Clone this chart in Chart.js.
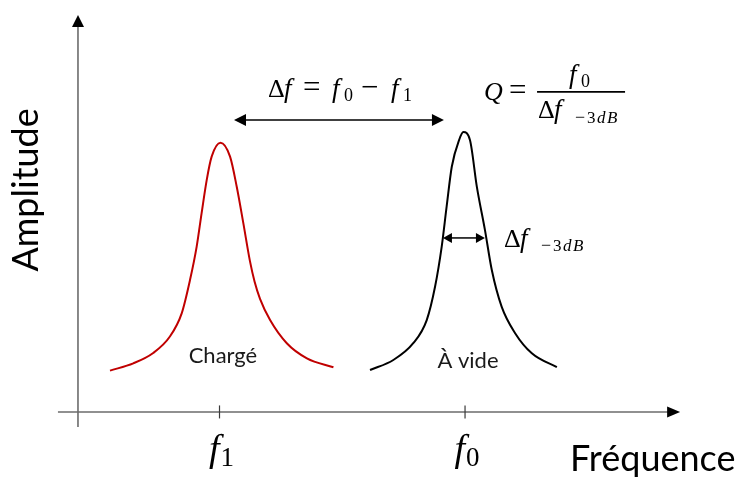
<!DOCTYPE html>
<html>
<head>
<meta charset="utf-8">
<script src="https://cdn.jsdelivr.net/npm/chart.js@4.4.0/dist/chart.umd.min.js"></script>
<style>
  html, body { margin: 0; padding: 0; background: #ffffff; }
  #wrap { width: 742px; height: 477px; position: relative; }
</style>
</head>
<body>
<div id="wrap"><canvas id="c" width="742" height="477"></canvas></div>
<script>
// ---- Data (frequency in units where f1 = 1, f0 = 2; amplitude normalised to the unloaded peak) ----
const redFreq   = [0.554, 0.649, 0.730, 0.798, 0.846, 0.880, 0.907, 0.927, 0.948, 0.968, 1.004, 1.043, 1.070, 1.097, 1.124, 1.143, 1.165, 1.206, 1.274, 1.356, 1.464];
const redAmp    = [0.148, 0.174, 0.211, 0.270, 0.353, 0.473, 0.592, 0.711, 0.831, 0.914, 0.964, 0.914, 0.807, 0.676, 0.540, 0.466, 0.405, 0.329, 0.246, 0.192, 0.160];
const blackFreq = [1.613, 1.708, 1.789, 1.844, 1.878, 1.905, 1.925, 1.946, 1.976, 1.993, 2.020, 2.048, 2.081, 2.109, 2.149, 2.204, 2.272, 2.374];
const blackAmp  = [0.150, 0.186, 0.246, 0.329, 0.449, 0.592, 0.735, 0.878, 0.974, 1.002, 0.974, 0.807, 0.652, 0.508, 0.377, 0.282, 0.210, 0.160];
const tickValues = [1, 2];
const tickLabels = [['f', '1'], ['f', '0']];
const seriesLabels = ['Chargé', 'À vide'];
const axisTitles = ['Fréquence', 'Amplitude'];

const toPts = (xs, ys) => xs.map((x, i) => ({ x: x, y: ys[i] }));

const MATH = '"Liberation Serif", "DejaVu Serif", serif';
const SANS = 'Lato, "Open Sans", sans-serif';

function drawPlaced(ctx, x, y, segs) {
  ctx.textAlign = 'left';
  ctx.textBaseline = 'alphabetic';
  segs.forEach(s => {
    ctx.font = (s.italic ? 'italic ' : '') + s.size + 'px ' + MATH;
    ctx.fillText(s.t, x + s.dx, y + (s.dy || 0));
  });
}

function drawRich(ctx, x, y, segs, align) {
  let total = 0;
  const ws = segs.map(s => {
    ctx.font = (s.italic ? 'italic ' : '') + s.size + 'px ' + MATH;
    const w = ctx.measureText(s.t).width + (s.gap || 0);
    total += w;
    return w;
  });
  let cx = align === 'center' ? x - total / 2 : x;
  ctx.textAlign = 'left';
  ctx.textBaseline = 'alphabetic';
  segs.forEach((s, i) => {
    ctx.font = (s.italic ? 'italic ' : '') + s.size + 'px ' + MATH;
    ctx.fillText(s.t, cx, y + (s.dy || 0));
    cx += ws[i];
  });
  return total;
}

function arrowHead(ctx, tx, ty, dir, len, half) {
  ctx.beginPath();
  if (dir === 'up') { ctx.moveTo(tx, ty); ctx.lineTo(tx - half, ty + len); ctx.lineTo(tx + half, ty + len); }
  if (dir === 'right') { ctx.moveTo(tx, ty); ctx.lineTo(tx - len, ty - half); ctx.lineTo(tx - len, ty + half); }
  if (dir === 'left') { ctx.moveTo(tx, ty); ctx.lineTo(tx + len, ty - half); ctx.lineTo(tx + len, ty + half); }
  ctx.closePath();
  ctx.fill();
}

const diagram = {
  id: 'diagram',
  beforeDatasetsDraw(chart) {
    const { ctx, scales: { x, y } } = chart;
    const px = v => x.getPixelForValue(v);
    const py = v => y.getPixelForValue(v);
    ctx.save();
    ctx.strokeStyle = '#6b6b6b';
    ctx.fillStyle = '#000000';
    ctx.lineWidth = 1.6;
    const yAxX = px(0.4236);
    ctx.beginPath();
    ctx.moveTo(yAxX, py(-0.054));
    ctx.lineTo(yAxX, py(1.421) + 10);
    ctx.stroke();
    arrowHead(ctx, yAxX, py(1.421), 'up', 12, 6);
    const xAxY = py(0);
    ctx.beginPath();
    ctx.moveTo(px(0.342), xAxY);
    ctx.lineTo(px(2.876) - 10, xAxY);
    ctx.stroke();
    arrowHead(ctx, px(2.876), xAxY, 'right', 13, 5.5);
    ctx.lineWidth = 1.2;
    ctx.strokeStyle = '#3a3a3a';
    tickValues.forEach(v => {
      ctx.beginPath();
      ctx.moveTo(px(v), xAxY - 6.5);
      ctx.lineTo(px(v), xAxY + 6.5);
      ctx.stroke();
    });
    ctx.restore();
  },
  afterDatasetsDraw(chart) {
    const { ctx, scales: { x, y } } = chart;
    const px = v => x.getPixelForValue(v);
    const py = v => y.getPixelForValue(v);
    ctx.save();
    ctx.fillStyle = '#000000';
    ctx.strokeStyle = '#000000';

    // tick labels
    tickValues.forEach((v, i) => {
      drawRich(ctx, px(v) + 2, py(-0.175), [
        { t: tickLabels[i][0], size: 38, italic: true, gap: 1 },
        { t: tickLabels[i][1], size: 27, dy: 5 }
      ], 'center');
    });

    // delta f arrow
    ctx.lineWidth = 1.5;
    const ay = py(1.045);
    const a1 = px(1.059), a2 = px(1.914);
    ctx.beginPath(); ctx.moveTo(a1 + 8, ay); ctx.lineTo(a2 - 8, ay); ctx.stroke();
    arrowHead(ctx, a1, ay, 'left', 12, 6);
    arrowHead(ctx, a2, ay, 'right', 12, 6);

    // -3dB width arrow
    const by = py(0.623);
    const b1 = px(1.910), b2 = px(2.081);
    ctx.beginPath(); ctx.moveTo(b1 + 6, by); ctx.lineTo(b2 - 6, by); ctx.stroke();
    arrowHead(ctx, b1, by, 'left', 9, 5);
    arrowHead(ctx, b2, by, 'right', 9, 5);

    // formula  Δf = f0 − f1
    drawPlaced(ctx, px(1.1976), py(1.128), [
      { t: 'Δ', size: 26, dx: 0 },
      { t: 'f', size: 27, italic: true, dx: 16 },
      { t: '=', size: 31, dx: 35 },
      { t: 'f', size: 27, italic: true, dx: 64 },
      { t: '0', size: 18, dx: 76, dy: 4 },
      { t: '−', size: 31, dx: 93 },
      { t: 'f', size: 27, italic: true, dx: 123 },
      { t: '1', size: 18, dx: 135, dy: 4 }
    ]);

    // Q = f0 / Δf-3dB
    const qx = px(2.0774), qy = py(1.117);
    drawPlaced(ctx, qx, qy, [
      { t: 'Q', size: 26, italic: true, dx: 0 },
      { t: '=', size: 31, dx: 25 }
    ]);
    const barY = py(1.146);
    const barL = px(2.2933), barR = px(2.6517);
    ctx.lineWidth = 1.6;
    ctx.beginPath(); ctx.moveTo(barL, barY); ctx.lineTo(barR, barY); ctx.stroke();
    drawPlaced(ctx, barL, barY - 9, [
      { t: 'f', size: 27, italic: true, dx: 32 },
      { t: '0', size: 18, dx: 44, dy: 4 }
    ]);
    drawPlaced(ctx, barL, barY + 26, [
      { t: 'Δ', size: 26, dx: 1 },
      { t: 'f', size: 27, italic: true, dx: 17 },
      { t: '−', size: 18, dx: 38, dy: 5 },
      { t: '3', size: 17, dx: 50, dy: 5 },
      { t: 'd', size: 17, italic: true, dx: 60, dy: 5 },
      { t: 'B', size: 17, italic: true, dx: 70, dy: 5 }
    ]);

    // right label Δf -3dB
    drawPlaced(ctx, px(2.159), py(0.591), [
      { t: 'Δ', size: 26, dx: 0 },
      { t: 'f', size: 27, italic: true, dx: 16 },
      { t: '−', size: 18, dx: 37, dy: 4 },
      { t: '3', size: 17, dx: 49, dy: 4 },
      { t: 'd', size: 17, italic: true, dx: 59, dy: 4 },
      { t: 'B', size: 17, italic: true, dx: 69, dy: 4 }
    ]);

    // series labels
    ctx.font = '22px ' + SANS;
    ctx.textAlign = 'center';
    ctx.textBaseline = 'alphabetic';
    ctx.fillStyle = '#1a1a1a';
    ctx.fillText(seriesLabels[0], px(1.014), py(0.175));
    ctx.fillText(seriesLabels[1], px(2.012), py(0.158));

    // axis titles
    ctx.fillStyle = '#000000';
    ctx.font = '36px ' + SANS;
    ctx.textAlign = 'left';
    ctx.fillText(axisTitles[0], px(2.4277), py(-0.211));
    ctx.save();
    ctx.translate(px(0.2607), py(0.795));
    ctx.rotate(-Math.PI / 2);
    ctx.textAlign = 'center';
    ctx.fillText(axisTitles[1], 0, 0);
    ctx.restore();

    ctx.restore();
  }
};

new Chart(document.getElementById('c'), {
  type: 'line',
  data: {
    datasets: [
      {
        label: seriesLabels[0],
        data: toPts(redFreq, redAmp),
        borderColor: '#c00000',
        borderWidth: 2,
        pointRadius: 0,
        fill: false,
        cubicInterpolationMode: 'monotone'
      },
      {
        label: seriesLabels[1],
        data: toPts(blackFreq, blackAmp),
        borderColor: '#000000',
        borderWidth: 2,
        pointRadius: 0,
        fill: false,
        cubicInterpolationMode: 'monotone'
      }
    ]
  },
  options: {
    responsive: false,
    animation: false,
    layout: { padding: 0 },
    plugins: { legend: { display: false }, tooltip: { enabled: false } },
    scales: {
      x: { type: 'linear', min: 0.106, max: 3.128, display: false },
      y: { type: 'linear', min: -0.233, max: 1.475, display: false }
    }
  },
  plugins: [diagram]
});
</script>
</body>
</html>
